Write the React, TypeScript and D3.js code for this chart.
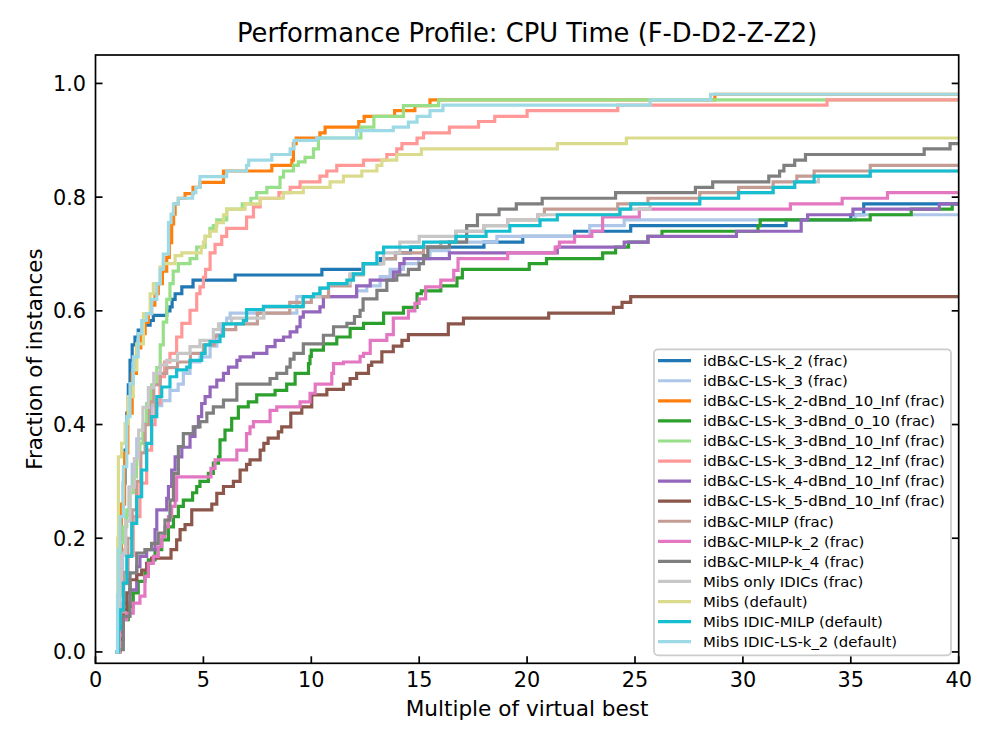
import React from 'react';
import * as d3 from 'd3';

type Pt = [number, number];

const TITLE = 'Performance Profile: CPU Time (F-D-D2-Z-Z2)';
const X_LABEL = 'Multiple of virtual best';
const Y_LABEL = 'Fraction of instances';
const X_TICKS = [0, 5, 10, 15, 20, 25, 30, 35, 40];
const Y_TICKS = [0.0, 0.2, 0.4, 0.6, 0.8, 1.0];
const X_DOMAIN: [number, number] = [0, 40];
const Y_DOMAIN: [number, number] = [-0.02, 1.05];

const SERIES_NAMES = [
  'idB&C-LS-k_2 (frac)',
  'idB&C-LS-k_3 (frac)',
  'idB&C-LS-k_2-dBnd_10_Inf (frac)',
  'idB&C-LS-k_3-dBnd_0_10 (frac)',
  'idB&C-LS-k_3-dBnd_10_Inf (frac)',
  'idB&C-LS-k_3-dBnd_12_Inf (frac)',
  'idB&C-LS-k_4-dBnd_10_Inf (frac)',
  'idB&C-LS-k_5-dBnd_10_Inf (frac)',
  'idB&C-MILP (frac)',
  'idB&C-MILP-k_2 (frac)',
  'idB&C-MILP-k_4 (frac)',
  'MibS only IDICs (frac)',
  'MibS (default)',
  'MibS IDIC-MILP (default)',
  'MibS IDIC-LS-k_2 (default)',
];

const lsK2: Pt[] = [[1.0,0.0],[1.03,0.1],[1.1,0.19],[1.2,0.256],[1.29,0.297],[1.37,0.355],[1.45,0.42],[1.52,0.47],[1.6,0.513],[1.7,0.54],[1.83,0.554],[1.98,0.566],[2.2,0.575],[2.53,0.583],[2.68,0.592],[3.3,0.6],[3.45,0.607],[3.55,0.62],[3.69,0.63],[4.0,0.642],[4.52,0.654],[6.47,0.663],[10.49,0.673],[12.4,0.683],[13.2,0.692],[13.9,0.702],[14.6,0.712],[18.0,0.721],[19.8,0.731],[22.2,0.74],[24.8,0.75],[32.0,0.76],[35.0,0.769],[35.6,0.788]];
const lsK3: Pt[] = [[1.0,0.0],[1.05,0.06],[1.12,0.12],[1.25,0.18],[1.4,0.24],[1.55,0.29],[1.7,0.33],[1.91,0.375],[2.22,0.402],[2.6,0.433],[3.07,0.442],[3.45,0.46],[3.83,0.471],[4.07,0.49],[4.38,0.51],[4.84,0.519],[5.31,0.538],[5.62,0.558],[5.85,0.577],[6.08,0.587],[6.24,0.596],[9.33,0.625],[12.1,0.635],[12.57,0.644],[13.19,0.66],[13.65,0.673],[14.27,0.683],[14.97,0.692],[15.5,0.706],[16.4,0.721],[18.6,0.731],[22.9,0.75],[24.5,0.76],[35.2,0.769]];
const lsK2dBnd10Inf: Pt[] = [[1.0,0.0],[1.04,0.1],[1.1,0.18],[1.2,0.26],[1.35,0.35],[1.5,0.42],[1.7,0.49],[1.9,0.535],[2.1,0.56],[2.3,0.58],[2.45,0.595],[2.6,0.61],[2.75,0.63],[2.91,0.648],[3.1,0.67],[3.3,0.694],[3.42,0.72],[3.53,0.753],[3.62,0.77],[3.69,0.788],[3.84,0.798],[4.15,0.806],[4.52,0.817],[4.84,0.826],[5.93,0.846],[8.17,0.856],[9.1,0.865],[9.17,0.894],[9.3,0.904],[10.4,0.913],[10.64,0.923],[12.2,0.933],[12.45,0.942],[13.86,0.952],[14.8,0.961],[15.5,0.971],[28.7,0.981]];
const lsK3dBnd010: Pt[] = [[1.0,0.0],[1.06,0.022],[1.29,0.057],[1.52,0.08],[1.75,0.104],[1.98,0.124],[2.29,0.139],[2.45,0.162],[2.76,0.18],[3.07,0.197],[3.38,0.22],[3.61,0.238],[3.84,0.256],[4.07,0.267],[4.5,0.28],[4.69,0.291],[4.84,0.3],[5.23,0.314],[5.46,0.332],[5.7,0.343],[5.77,0.373],[6.0,0.39],[6.31,0.411],[6.62,0.431],[7.08,0.44],[7.47,0.452],[8.32,0.46],[8.86,0.471],[9.25,0.49],[9.87,0.507],[9.94,0.52],[10.0,0.531],[10.56,0.542],[11.18,0.554],[11.8,0.569],[12.42,0.578],[13.35,0.596],[14.27,0.606],[14.9,0.63],[15.1,0.635],[16.0,0.644],[16.75,0.658],[17.0,0.673],[20.1,0.683],[20.9,0.692],[23.5,0.702],[24.1,0.712],[24.7,0.721],[25.6,0.731],[26.25,0.74],[30.7,0.75],[30.8,0.76],[35.9,0.769],[37.8,0.779],[39.7,0.788]];
const lsK3dBnd10Inf: Pt[] = [[1.0,0.0],[1.05,0.1],[1.14,0.192],[1.3,0.22],[1.45,0.25],[1.6,0.28],[1.75,0.308],[1.9,0.34],[2.06,0.367],[2.2,0.4],[2.37,0.437],[2.6,0.47],[2.84,0.5],[3.0,0.54],[3.14,0.58],[3.3,0.62],[3.45,0.648],[3.6,0.67],[3.84,0.683],[4.38,0.692],[4.69,0.712],[5.08,0.731],[5.3,0.745],[5.46,0.75],[5.62,0.76],[6.08,0.779],[6.8,0.788],[7.2,0.798],[7.47,0.808],[7.94,0.817],[8.55,0.835],[8.71,0.846],[9.17,0.856],[9.4,0.862],[9.71,0.87],[10.1,0.885],[10.33,0.904],[12.3,0.923],[12.9,0.942],[14.27,0.961],[15.9,0.971]];
const lsK3dBnd12Inf: Pt[] = [[1.0,0.0],[1.1,0.06],[1.3,0.12],[1.5,0.17],[1.75,0.238],[2.06,0.297],[2.37,0.355],[2.6,0.4],[2.76,0.437],[2.99,0.484],[3.2,0.51],[3.45,0.525],[3.76,0.554],[4.0,0.578],[4.38,0.601],[4.69,0.63],[4.84,0.642],[5.0,0.659],[5.1,0.673],[5.31,0.702],[5.54,0.717],[5.85,0.731],[6.08,0.745],[7.0,0.765],[7.32,0.783],[7.63,0.798],[8.5,0.808],[9.02,0.817],[9.48,0.827],[10.4,0.837],[10.72,0.846],[11.18,0.856],[12.42,0.865],[13.5,0.875],[13.96,0.885],[14.2,0.894],[14.9,0.904],[15.2,0.913],[16.4,0.923],[17.75,0.933],[18.5,0.942],[20.0,0.952],[24.2,0.962],[33.9,0.971]];
const lsK4dBnd10Inf: Pt[] = [[1.0,0.0],[1.06,0.033],[1.29,0.086],[1.6,0.109],[1.91,0.15],[2.06,0.168],[2.37,0.18],[2.76,0.215],[2.84,0.25],[3.3,0.27],[3.38,0.291],[3.53,0.32],[3.69,0.343],[4.0,0.36],[4.38,0.379],[4.61,0.396],[4.77,0.414],[4.92,0.437],[5.08,0.449],[5.31,0.466],[5.62,0.478],[5.93,0.49],[6.16,0.501],[6.55,0.513],[6.7,0.519],[7.32,0.525],[7.94,0.537],[8.32,0.548],[8.71,0.554],[9.02,0.563],[9.33,0.572],[9.48,0.589],[9.63,0.598],[10.4,0.607],[10.56,0.625],[12.1,0.644],[12.73,0.654],[13.8,0.668],[14.1,0.683],[14.3,0.692],[16.4,0.702],[21.4,0.712],[24.5,0.721],[25.6,0.731],[29.7,0.74],[32.7,0.76],[33.0,0.769],[35.1,0.779],[39.1,0.788]];
const lsK5dBnd10Inf: Pt[] = [[1.0,0.0],[1.14,0.045],[1.29,0.074],[1.45,0.104],[1.6,0.127],[1.91,0.136],[2.14,0.144],[2.37,0.156],[2.6,0.165],[3.5,0.18],[3.76,0.197],[3.92,0.215],[4.15,0.224],[4.46,0.25],[5.39,0.26],[5.62,0.279],[5.93,0.291],[6.39,0.3],[6.7,0.32],[7.0,0.33],[7.16,0.338],[7.63,0.355],[7.8,0.367],[8.0,0.376],[8.47,0.387],[8.63,0.396],[9.05,0.42],[9.56,0.431],[10.02,0.452],[10.72,0.462],[11.49,0.471],[11.8,0.481],[12.1,0.49],[12.65,0.504],[12.8,0.51],[13.27,0.528],[13.8,0.538],[14.2,0.548],[14.5,0.558],[16.35,0.577],[17.05,0.587],[21.0,0.596],[24.0,0.606],[24.4,0.615],[24.8,0.625]];
const milp: Pt[] = [[1.0,0.0],[1.1,0.07],[1.3,0.14],[1.5,0.2],[1.7,0.25],[1.9,0.3],[2.1,0.35],[2.3,0.4],[2.5,0.44],[2.7,0.47],[3.0,0.49],[3.3,0.5],[3.8,0.51],[4.4,0.525],[5.0,0.54],[5.5,0.556],[5.9,0.567],[6.5,0.577],[7.5,0.596],[9.0,0.615],[10.0,0.625],[10.8,0.644],[11.8,0.663],[12.4,0.683],[13.35,0.692],[13.9,0.702],[15.2,0.712],[16.0,0.721],[16.7,0.74],[18.0,0.75],[19.1,0.76],[20.5,0.769],[20.8,0.779],[24.2,0.788],[25.6,0.798],[28.0,0.808],[29.8,0.817],[31.4,0.827],[32.5,0.837],[33.3,0.846],[35.9,0.856]];
const milpK2: Pt[] = [[1.0,0.0],[1.1,0.03],[1.29,0.057],[1.45,0.068],[1.75,0.086],[2.06,0.098],[2.29,0.133],[2.45,0.156],[2.68,0.168],[2.91,0.185],[3.07,0.203],[3.22,0.22],[3.38,0.238],[3.53,0.256],[3.69,0.267],[3.76,0.308],[5.35,0.323],[5.54,0.338],[6.55,0.355],[7.0,0.384],[7.16,0.396],[7.32,0.405],[8.09,0.425],[8.4,0.431],[9.48,0.44],[9.94,0.455],[10.18,0.471],[10.95,0.49],[11.03,0.507],[11.49,0.51],[12.26,0.52],[12.42,0.525],[12.73,0.548],[13.5,0.558],[13.8,0.587],[14.5,0.6],[14.8,0.613],[15.0,0.621],[15.3,0.642],[16.0,0.654],[16.6,0.671],[16.8,0.692],[19.1,0.702],[21.3,0.712],[21.5,0.721],[22.2,0.731],[23.0,0.74],[23.5,0.765],[25.2,0.779],[32.2,0.788],[34.6,0.798],[36.7,0.808]];
const milpK4: Pt[] = [[1.0,0.0],[1.06,0.004],[1.29,0.0625],[1.6,0.139],[1.91,0.174],[2.29,0.18],[2.6,0.191],[2.91,0.209],[3.22,0.232],[3.45,0.267],[3.61,0.314],[3.84,0.361],[4.07,0.384],[4.53,0.396],[4.84,0.405],[5.16,0.42],[5.46,0.431],[5.93,0.443],[6.55,0.471],[8.09,0.481],[8.4,0.49],[8.86,0.501],[9.02,0.515],[9.2,0.525],[9.63,0.542],[10.56,0.557],[11.03,0.572],[11.65,0.578],[12.0,0.59],[12.26,0.601],[12.4,0.621],[13.04,0.636],[13.5,0.654],[13.96,0.663],[14.5,0.673],[15.0,0.683],[15.2,0.697],[15.4,0.712],[16.4,0.721],[17.2,0.75],[17.7,0.769],[18.7,0.779],[19.5,0.788],[20.7,0.798],[24.1,0.808],[27.8,0.817],[28.6,0.827],[31.2,0.837],[31.7,0.846],[31.9,0.856],[32.4,0.865],[32.9,0.875],[38.4,0.885],[39.6,0.894]];
const mibsOnlyIdics: Pt[] = [[1.0,0.0],[1.08,0.1],[1.2,0.17],[1.4,0.23],[1.6,0.29],[1.8,0.34],[2.0,0.39],[2.2,0.43],[2.45,0.465],[2.7,0.49],[3.0,0.505],[3.3,0.513],[3.8,0.525],[4.38,0.537],[4.84,0.548],[5.46,0.567],[5.7,0.577],[6.3,0.587],[7.8,0.606],[9.6,0.625],[10.4,0.64],[10.8,0.648],[11.8,0.665],[12.4,0.683],[13.35,0.702],[14.1,0.721],[15.0,0.731],[16.7,0.74],[18.0,0.75],[19.1,0.76],[20.5,0.769],[24.3,0.779],[25.7,0.788],[28.0,0.798],[29.8,0.808],[31.4,0.817],[32.4,0.827],[33.5,0.837],[35.9,0.846]];
const mibsDefault: Pt[] = [[1.0,0.0],[1.03,0.2],[1.06,0.343],[1.21,0.367],[1.37,0.402],[1.52,0.449],[1.75,0.496],[1.91,0.542],[2.22,0.595],[2.53,0.63],[2.68,0.648],[2.99,0.677],[3.14,0.683],[3.69,0.697],[4.0,0.702],[4.9,0.712],[5.0,0.721],[5.08,0.731],[5.3,0.74],[5.6,0.755],[5.93,0.769],[6.08,0.779],[6.93,0.788],[7.63,0.798],[8.7,0.808],[9.63,0.817],[10.87,0.827],[11.49,0.837],[12.34,0.846],[13.04,0.856],[13.27,0.865],[13.96,0.875],[15.1,0.885],[21.4,0.894],[24.6,0.904]];
const mibsIdicMilp: Pt[] = [[1.0,0.0],[1.06,0.04],[1.14,0.074],[1.29,0.121],[1.45,0.168],[1.68,0.226],[1.91,0.273],[2.14,0.32],[2.37,0.367],[2.6,0.414],[2.84,0.449],[3.07,0.466],[3.45,0.484],[3.76,0.496],[4.23,0.501],[4.38,0.513],[4.92,0.525],[5.08,0.54],[5.31,0.546],[5.77,0.556],[5.93,0.577],[6.85,0.583],[7.0,0.602],[7.78,0.608],[9.63,0.625],[10.1,0.63],[10.4,0.64],[10.79,0.648],[11.65,0.654],[11.95,0.665],[12.42,0.683],[13.04,0.702],[13.35,0.712],[15.2,0.721],[16.7,0.731],[18.1,0.74],[19.2,0.75],[20.6,0.76],[21.4,0.769],[24.3,0.779],[24.8,0.788],[28.0,0.798],[29.8,0.808],[31.4,0.817],[32.4,0.827],[33.3,0.837],[35.9,0.846]];
const mibsIdicLsK2: Pt[] = [[1.0,0.0],[1.02,0.1],[1.06,0.18],[1.14,0.238],[1.29,0.326],[1.45,0.414],[1.6,0.472],[1.75,0.519],[1.98,0.56],[2.14,0.583],[2.37,0.595],[2.6,0.62],[2.84,0.648],[3.0,0.673],[3.14,0.7],[3.38,0.755],[3.5,0.77],[3.61,0.788],[3.84,0.798],[4.5,0.808],[4.65,0.817],[4.84,0.836],[6.08,0.846],[7.0,0.856],[7.1,0.865],[8.17,0.875],[9.02,0.885],[9.2,0.9],[10.25,0.904],[12.1,0.917],[13.8,0.923],[14.5,0.932],[14.9,0.942],[15.5,0.952],[16.1,0.962],[25.7,0.971],[28.5,0.981]];

const SERIES_DATA: Pt[][] = [
  lsK2, lsK3, lsK2dBnd10Inf, lsK3dBnd010, lsK3dBnd10Inf, lsK3dBnd12Inf,
  lsK4dBnd10Inf, lsK5dBnd10Inf, milp, milpK2, milpK4, mibsOnlyIdics,
  mibsDefault, mibsIdicMilp, mibsIdicLsK2,
];

const SERIES_COLORS = [
  '#1f77b4', '#aec7e8', '#ff7f0e', '#2ca02c', '#98df8a', '#ff9896',
  '#9467bd', '#8c564b', '#c49c94', '#e377c2', '#7f7f7f', '#c7c7c7',
  '#dbdb8d', '#17becf', '#9edae5',
];

const W = 996;
const H = 747;
const PLOT = { left: 95.5, right: 958.7, top: 55, bottom: 663.3 };
const FONT = '"DejaVu Sans", sans-serif';

export default function App() {
  const x = d3.scaleLinear().domain(X_DOMAIN).range([PLOT.left, PLOT.right]);
  const y = d3.scaleLinear().domain(Y_DOMAIN).range([PLOT.bottom, PLOT.top]);
  const line = d3
    .line<Pt>()
    .x((d) => x(d[0]))
    .y((d) => y(d[1]))
    .curve(d3.curveStepAfter);

  const tickLen = 7;
  const legend = { x: 654, y: 349.3, w: 297, h: 306, row0: 360.7, rowGap: 20.07 };

  return (
    <svg
      width={W}
      height={H}
      viewBox={`0 0 ${W} ${H}`}
      style={{ position: 'absolute', left: 0, top: 0, background: '#fff' }}
      fontFamily={FONT}
    >
      <defs>
        <clipPath id="plotClip">
          <rect x={PLOT.left} y={PLOT.top} width={PLOT.right - PLOT.left} height={PLOT.bottom - PLOT.top} />
        </clipPath>
      </defs>
      <rect x={0} y={0} width={W} height={H} fill="#fff" />

      <g clipPath="url(#plotClip)">
        {SERIES_DATA.map((pts, i) => {
          const ext: Pt[] = [...pts, [X_DOMAIN[1] + 1, pts[pts.length - 1][1]]];
          return (
            <path
              key={i}
              d={line(ext) || ''}
              fill="none"
              stroke={SERIES_COLORS[i]}
              strokeWidth={3.2}
              strokeLinejoin="miter"
              strokeLinecap="square"
            />
          );
        })}
      </g>

      {X_TICKS.map((t) => (
        <g key={'xt' + t}>
          <line x1={x(t)} x2={x(t)} y1={PLOT.bottom} y2={PLOT.bottom - tickLen} stroke="#000" strokeWidth={1.7} />
          <text x={x(t)} y={687} fontSize={20.8} textAnchor="middle" fill="#000">
            {String(t)}
          </text>
        </g>
      ))}
      {Y_TICKS.map((t) => (
        <g key={'yt' + t}>
          <line x1={PLOT.left} x2={PLOT.left + tickLen} y1={y(t)} y2={y(t)} stroke="#000" strokeWidth={1.7} />
          <line x1={PLOT.right} x2={PLOT.right - tickLen} y1={y(t)} y2={y(t)} stroke="#000" strokeWidth={1.7} />
          <text x={86} y={y(t) + 7.5} fontSize={20.8} textAnchor="end" fill="#000">
            {t.toFixed(1)}
          </text>
        </g>
      ))}

      <rect
        x={PLOT.left}
        y={PLOT.top}
        width={PLOT.right - PLOT.left}
        height={PLOT.bottom - PLOT.top}
        fill="none"
        stroke="#000"
        strokeWidth={1.7}
      />

      <rect
        x={legend.x}
        y={legend.y}
        width={legend.w}
        height={legend.h}
        rx={4}
        ry={4}
        fill="#fff"
        fillOpacity={0.8}
        stroke="#cccccc"
        strokeWidth={1.7}
      />
      {SERIES_NAMES.map((name, i) => {
        const yy = legend.row0 + i * legend.rowGap;
        return (
          <g key={'lg' + i}>
            <line x1={658} x2={691} y1={yy} y2={yy} stroke={SERIES_COLORS[i]} strokeWidth={3.2} />
            <text x={703} y={yy + 5.3} fontSize={14.9} fill="#000">
              {name}
            </text>
          </g>
        );
      })}

      <text x={(PLOT.left + PLOT.right) / 2} y={42} fontSize={25.8} textAnchor="middle" fill="#000">
        {TITLE}
      </text>
      <text x={(PLOT.left + PLOT.right) / 2} y={716} fontSize={21.6} textAnchor="middle" fill="#000">
        {X_LABEL}
      </text>
      <text
        transform={`translate(42, ${(PLOT.top + PLOT.bottom) / 2}) rotate(-90)`}
        fontSize={21.4}
        textAnchor="middle"
        fill="#000"
      >
        {Y_LABEL}
      </text>
    </svg>
  );
}
